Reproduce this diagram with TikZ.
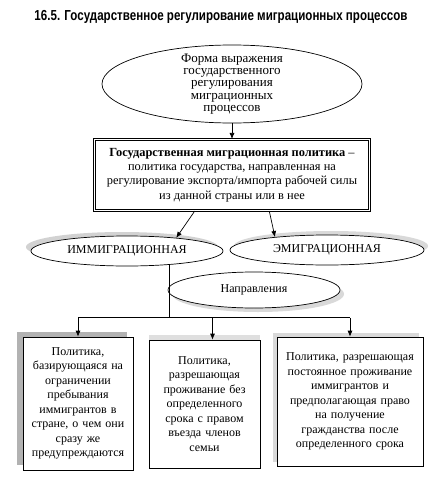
\documentclass[tikz,border=0pt]{standalone}
\usepackage{fontspec}
\setmainfont{Liberation Serif}
\newfontfamily\titlefont{Liberation Sans}
\usetikzlibrary{arrows.meta,positioning,shapes.geometric,calc,shadows}

\begin{document}
\begin{tikzpicture}[
    x=1pt, y=-1pt,
    font=\fontsize{12}{14.5}\selectfont,
    line width=0.7pt,
    oval/.style={draw, ellipse, fill=white, inner sep=0pt, align=center},
    policybox/.style={draw, double, double distance=1pt, line width=1.1pt, fill=white, align=center, minimum width=275pt, minimum height=71pt},
    item/.style={draw, fill=white, align=center, inner sep=2pt},
    arrow/.style={-{Latex[length=6pt, width=5pt]}}
]
\useasboundingbox (0,0) rectangle (447,493);

\node[font=\titlefont\bfseries\fontsize{14.5}{16}\selectfont] (title) at (221,17)
    {\resizebox{373pt}{\height}{16.5. Государственное регулирование миграционных процессов}};

\node[oval, minimum width=260pt, minimum height=78pt, inner ysep=-6pt, font=\fontsize{13}{12.4}\selectfont] (form) at (232,84)
    {Форма выражения\\государственного\\регулирования\\миграционных\\процессов};
\node[policybox, font=\fontsize{12.4}{14.3}\selectfont] (policy) at (232,175)
    {\textbf{Государственная миграционная политика} –\\политика государства, направленная на\\регулирование экспорта/импорта рабочей силы\\из данной страны или в нее};

\node[oval, minimum width=192pt, minimum height=30pt,
      drop shadow={shadow xshift=-5pt, shadow yshift=4pt, opacity=1, fill=gray!35}] (immig) at (127,251) {ИММИГРАЦИОННАЯ};
\node[oval, minimum width=194pt, minimum height=30pt,
      drop shadow={shadow xshift=4pt, shadow yshift=4pt, opacity=1, fill=gray!30}] (emig) at (327,250) {ЭМИГРАЦИОННАЯ};
\node[oval, minimum width=172pt, minimum height=36pt,
      drop shadow={shadow xshift=4pt, shadow yshift=-4pt, opacity=1, fill=gray!30}] (napr) at (254,290) {Направления};

% policy directions
\node[item, minimum width=110pt, minimum height=133pt, text width=104pt,
      drop shadow={shadow xshift=-6pt, shadow yshift=5pt, opacity=1, fill=gray!60}] (b1) at (78,403.5)
    {Политика,\\базирующаяся на\\ограничении\\пребывания\\иммигрантов в\\стране, о чем они\\сразу же\\предупреждаются};
\node[item, minimum width=111pt, minimum height=128pt, text width=105pt,
      drop shadow={shadow xshift=0pt, shadow yshift=5pt, opacity=1, fill=gray!25}] (b2) at (204.5,404)
    {Политика,\\разрешающая\\проживание без\\определенного\\срока с правом\\въезда членов\\семьи};
\node[item, minimum width=146pt, minimum height=129pt, text width=140pt,
      drop shadow={shadow xshift=-4pt, shadow yshift=4pt, opacity=1, fill=gray!30}] (b3) at (350,401.5)
    {Политика, разрешающая\\постоянное проживание\\иммигрантов и\\предполагающая право\\на получение\\гражданства после\\определенного срока};

\draw[arrow] (form.south) -- (policy.north);
\draw[arrow] ($(policy.south)!0.27!(policy.south west)$) -- (immig.15);
\draw[arrow] ($(policy.south)!0.27!(policy.south east)$) -- (emig.166);

\draw (immig.-18) -- ++(0,53) coordinate (split);
\draw (b1.north |- split) -- (b3.north |- split);
\draw[arrow] (b1.north |- split) -- (b1.north);
\draw[arrow] ($(b2.north |- split)+(8,0)$) -- ($(b2.north)+(8,0)$);
\draw[arrow] (b3.north |- split) -- (b3.north);
\end{tikzpicture}
\end{document}
